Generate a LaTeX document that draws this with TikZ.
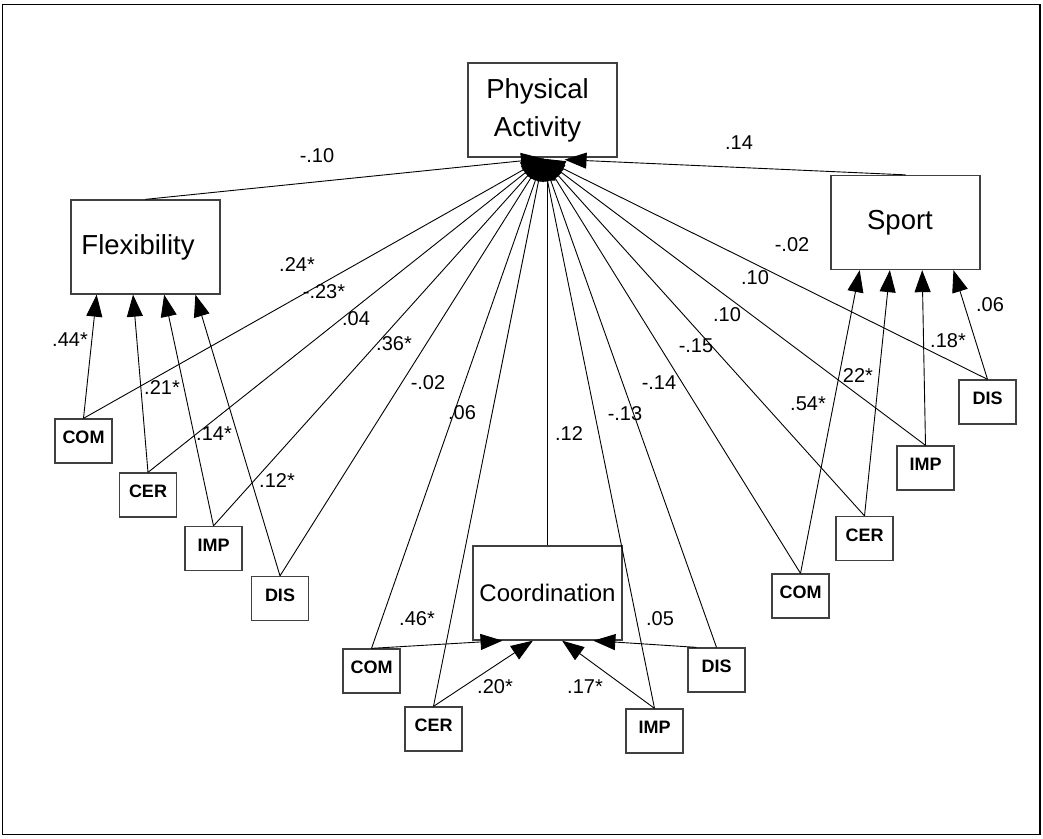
\documentclass[tikz,border=0pt]{standalone}
\usepackage{fontspec}
\setmainfont{Liberation Sans}
\usetikzlibrary{arrows.meta,calc}
\begin{document}
\begin{tikzpicture}[x=1pt,y=-1pt,
  factor/.style={draw=black!75,line width=1.3pt,fill=white,minimum width=149pt,
    minimum height=94pt,inner sep=0pt,align=center,font=\fontsize{27.5}{38}\selectfont},
  item/.style={draw=black!75,line width=1.3pt,fill=white,minimum width=57pt,
    minimum height=44pt,inner sep=0pt,text height=13pt,text depth=8pt,
    font=\fontsize{18}{20}\selectfont\bfseries},
  link/.style={draw=black,line width=0.9pt,-{Triangle[length=22pt,width=16pt]}},
  coef/.style={inner sep=0pt,text height=14.3pt,text depth=0pt,
    font=\fontsize{20}{22}\selectfont},
]
\useasboundingbox (0,0) rectangle (1043,838);
\draw[line width=1.6pt] (2.5,4.5) rectangle (1040,834.5);

% latent factors
\node[factor] (pa)    at (542.5,110)   {Physical\hspace*{10pt}\\Activity\hspace*{10pt}};
\node[factor] (flex)  at (145.5,247)   {Flexibility\hspace*{15pt}};
\node[factor] (sport) at (905.5,222.5) {\raisebox{-3pt}{Sport}\hspace*{11pt}};
\node[factor,font=\fontsize{24}{28}\selectfont] (coord) at (547.5,593) {Coordination};

% indicator boxes: flexibility group
\node[item] (comF) at (83.5,441)   {COM};
\node[item] (cerF) at (148,495)    {CER};
\node[item] (impF) at (213.5,548.5){IMP};
\node[item] (disF) at (280,598.5)  {DIS};
% coordination group
\node[item] (comC) at (371.5,671)  {COM};
\node[item] (cerC) at (433.5,729)  {CER};
\node[item] (impC) at (654.5,731)  {IMP};
\node[item] (disC) at (716.5,670)  {DIS};
% sport group
\node[item] (comS) at (800.5,596)  {COM};
\node[item] (cerS) at (864.5,538.5){CER};
\node[item] (impS) at (925.5,468)  {IMP};
\node[item] (disS) at (987.5,402)  {DIS};

% entry points on the physical activity box
\coordinate (hub)  at ($(pa.south)+(0.5,1)$);
\coordinate (hubS) at ($(pa.south)+(22,2)$);

% paths into physical activity
\draw[link] (flex.north) -- (hub);
\draw[link] (sport.north) -- (hubS);
\foreach \n in {comF,cerF,impF,disF,comC,cerC,impC,disC,comS,cerS,impS,disS}
  \draw[link] (\n.north) -- (hub);
\draw[link] (coord.north) -- (coord.north |- hub);

% paths into flexibility
\draw[link] (comF.north) -- ($(flex.south west)!0.175!(flex.south east)$);
\draw[link] (cerF.north) -- ($(flex.south west)!0.417!(flex.south east)$);
\draw[link] (impF.north) -- ($(flex.south west)!0.624!(flex.south east)$);
\draw[link] (disF.north) -- ($(flex.south west)!0.832!(flex.south east)$);

% paths into sport
\draw[link] (comS.north) -- ($(sport.south west)!0.195!(sport.south east)$);
\draw[link] (cerS.north) -- ($(sport.south west)!0.396!(sport.south east)$);
\draw[link] (impS.north) -- ($(sport.south west)!0.611!(sport.south east)$);
\draw[link] (disS.north) -- ($(sport.south west)!0.819!(sport.south east)$);

% paths into coordination
\draw[link] (comC.north) -- ($(coord.south west)!0.201!(coord.south east)$);
\draw[link] (cerC.north) -- ($(coord.south west)!0.403!(coord.south east)$);
\draw[link] (impC.north) -- ($(coord.south west)!0.597!(coord.south east)$);
\draw[link] ($(disC.north west)+(9,0)$) -- ($(coord.south west)!0.805!(coord.south east)$);

% path coefficients
\node[coef] (c1)  at (317,155) {-.10};
\node[coef] (c2)  at (739,142) {.14};
\node[coef] (c3)  at (297,264) {.24*};
\node[coef] (c4)  at (324,291) {-.23*};
\node[coef] (c5)  at (356,318) {.04};
\node[coef] (c6)  at (394,343) {.36*};
\node[coef] (c7)  at (428,382) {-.02};
\node[coef] (c8)  at (462,412) {.06};
\node[coef] (c9)  at (569,433) {.12};
\node[coef] (c10) at (625,413) {-.13};
\node[coef] (c11) at (659,382) {-.14};
\node[coef] (c12) at (696,345) {-.15};
\node[coef] (c13) at (727,314) {.10};
\node[coef] (c14) at (755,277) {.10};
\node[coef] (c15) at (792,244) {-.02};
\node[coef] (c16) at (990,304) {.06};
\node[coef] (c17) at (948,340) {.18*};
\node[coef] (c18) at (858,375) {22*};
\node[coef] (c19) at (808,403) {.54*};
\node[coef] (c20) at (70,339)  {.44*};
\node[coef] (c21) at (162,387) {.21*};
\node[coef] (c22) at (214,433) {.14*};
\node[coef] (c23) at (277,480) {.12*};
\node[coef] (c24) at (417,618) {.46*};
\node[coef] (c25) at (660,618) {.05};
\node[coef] (c26) at (495,686) {.20*};
\node[coef] (c27) at (585,686) {.17*};
\end{tikzpicture}
\end{document}
